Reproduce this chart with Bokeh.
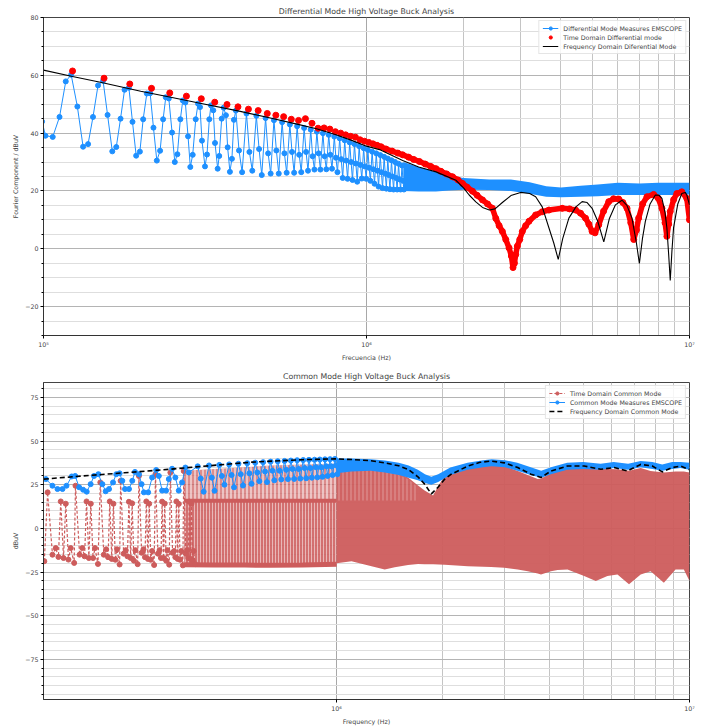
from bokeh.plotting import figure
from bokeh.layouts import column
from bokeh.models import Range1d, FixedTicker, SingleIntervalTicker, Legend, LegendItem
from bokeh.embed import file_html
from bokeh.resources import INLINE

FONT = "DejaVu Sans"
BLUE = "#1E90FF"
RED = "#FF0000"
IRED = "#CD5C5C"

# ------------------------------------------------------------------ TOP: differential mode
# EMSCOPE measurement, low-frequency part (kHz, dBuV)
dm_meas_low_khz = [99.0, 101.4, 106.8, 112.1, 117.2, 121.8, 127.3, 132.6, 137.4, 142.3,
                   147.5, 152.9, 157.9, 163.3, 168.0, 173.2, 178.2, 183.8, 188.6, 193.6,
                   198.8, 203.5, 208.9, 213.9, 219.0, 224.3, 229.6, 234.6, 239.1, 244.3,
                   250.1, 255.0, 259.7, 265.3, 269.9, 274.9, 280.2, 284.8, 289.7, 296.0,
                   300.9, 305.2, 309.5, 316.2, 320.8, 326.1, 330.0, 335.5, 339.6, 346.1,
                   350.0, 356.1, 361.2, 367.1, 371.6, 377.7, 383.1, 388.6]
dm_meas_low_db = [44.0, 39.1, 38.7, 45.6, 57.9, 60.2, 49.2, 35.3, 36.2, 45.6,
                  56.5, 58.1, 46.3, 33.7, 35.2, 45.0, 55.0, 55.7, 43.9, 32.2,
                  33.6, 44.8, 53.7, 53.8, 41.9, 30.5, 33.9, 44.8, 52.4, 52.0,
                  40.2, 30.0, 32.7, 44.8, 51.3, 50.6, 38.9, 28.3, 32.5, 44.8,
                  50.2, 49.0, 37.4, 28.5, 32.6, 44.8, 49.6, 47.9, 36.6, 27.7,
                  32.1, 45.0, 48.8, 46.2, 35.1, 26.6, 31.1, 44.6]
# EMSCOPE measurement, mid part: peak / falling / trough per harmonic (kHz, dBuV)
dm_peak_khz = [394, 425, 456, 487, 517, 548, 579, 610, 641, 672, 702, 733, 764, 795, 826,
               856, 887, 918, 949, 980, 1010, 1041, 1072, 1103, 1134, 1164, 1195, 1226, 1257, 1288]
dm_fall_khz = [403, 434, 465, 496, 526, 557, 588, 619, 650, 681, 711, 742, 773, 804, 835,
               865, 896, 927, 958, 989, 1019, 1050, 1081, 1112, 1143, 1173, 1204, 1235, 1266, 1297]
dm_trough_khz = [412, 443, 474, 505, 535, 566, 597, 628, 659, 690, 720, 751, 782, 813, 844,
                 874, 905, 936, 967, 998, 1028, 1059, 1090, 1121, 1152, 1182, 1213, 1244, 1275, 1306]
dm_peak_db = [47.8, 46.8, 46.0, 45.2, 44.5, 43.8, 43.0, 42.4, 41.8, 41.2, 40.5, 40.0, 39.4, 38.8, 38.2,
              37.5, 36.8, 36.2, 35.5, 34.8, 34.2, 33.6, 33.0, 32.4, 31.8, 31.2, 30.6, 30.0, 29.4, 28.8]
dm_fall_db = [34.0, 33.5, 34.5, 33.0, 34.0, 33.0, 33.5, 32.5, 33.5, 32.0, 33.0, 32.0, 32.5, 31.5, 31.0,
              30.5, 30.0, 29.5, 29.0, 28.5, 28.0, 27.5, 27.0, 26.5, 26.0, 25.5, 25.0, 24.5, 24.0, 23.5]
dm_trough_db = [26.5, 27.0, 25.5, 26.0, 26.0, 26.3, 26.3, 26.5, 27.0, 27.4, 27.4, 27.5, 27.7, 26.5, 24.5,
                24.2, 23.8, 23.2, 24.3, 24.2, 23.5, 22.5, 21.5, 21.0, 20.8, 20.6, 20.5, 20.5, 20.5, 20.5]
# EMSCOPE measurement, dense high-frequency band (MHz, upper / lower dBuV)
dm_band_mhz = [1.30, 1.45, 1.64, 1.80, 2.0, 2.4, 2.8, 3.2, 3.6, 4.0, 4.6, 5.2, 6.0, 7.0, 8.0, 9.0, 10.0]
dm_band_hi = [30.0, 28.3, 26.5, 25.2, 24.5, 24.0, 24.0, 23.0, 21.6, 21.2, 21.8, 22.2, 22.8, 22.6, 22.8, 22.8, 22.8]
dm_band_lo = [20.0, 19.8, 19.8, 20.2, 20.4, 20.3, 20.0, 19.0, 18.0, 17.8, 18.0, 18.2, 18.6, 18.6, 18.6, 18.6, 18.8]

# Time-domain differential mode harmonics (kHz, dBuV)
dm_td_khz = [123, 154, 185, 216, 246, 277, 308, 339, 370, 400, 431, 462, 493, 524, 554,
             585, 616, 647, 678, 708, 739, 770, 801, 832, 862, 893, 924, 955, 986, 1016]
dm_td_db = [61.5, 59.0, 57.0, 55.5, 53.9, 52.8, 51.9, 50.7, 49.9, 49.1, 48.3, 47.8, 46.8, 46.2, 45.7,
            44.8, 44.4, 45.0, 43.4, 41.7, 41.8, 41.4, 40.5, 40.0, 39.4, 38.9, 38.6, 37.7, 37.2, 36.8]
# Time-domain, dense region (MHz, dBuV)
dm_td_hi_mhz = [1.047, 1.078, 1.109, 1.15, 1.20, 1.25, 1.294, 1.35, 1.40, 1.458,
                1.52, 1.58, 1.641, 1.70, 1.77, 1.847, 1.92, 1.983, 2.05, 2.129,
                2.20, 2.286, 2.37, 2.454, 2.514, 2.574, 2.634, 2.699, 2.763, 2.809,
                2.842, 2.87, 2.897, 2.931, 2.982, 3.037, 3.11, 3.185, 3.34, 3.5,
                3.672, 4.036, 4.25, 4.439, 4.6, 4.765, 4.88, 4.994, 5.1, 5.237,
                5.42, 5.623, 5.82, 6.038, 6.22, 6.406, 6.58, 6.719, 6.85, 6.959,
                7.16, 7.384, 7.743, 8.0, 8.216, 8.40, 8.511, 8.62, 8.718, 8.93,
                9.137, 9.466, 9.81, 10.0]
dm_td_hi_db = [36.3, 35.8, 35.3, 34.5, 33.8, 33.1, 32.5, 31.7, 30.9, 30.2,
               29.3, 28.5, 27.7, 26.8, 25.9, 24.9, 23.8, 22.6, 21.3, 19.9,
               18.5, 16.9, 15.5, 14.0, 10.5, 8.0, 6.0, 3.2, 0.3, -2.5,
               -6.5, -5.0, -2.0, 0.9, 3.2, 6.0, 8.0, 9.5, 11.7, 12.8,
               13.4, 14.0, 13.8, 13.4, 12.3, 10.6, 8.5, 6.0, 5.5, 8.3,
               13.0, 16.3, 17.3, 17.2, 16.0, 14.0, 9.0, 3.2, 6.5, 10.6,
               15.5, 18.0, 18.8, 17.5, 14.0, 9.0, 4.3, 8.5, 12.9, 17.0,
               19.1, 19.7, 17.4, 10.0]
# Frequency-domain differential mode (MHz, dBuV)
dm_fd_mhz = [0.1, 0.123, 0.15, 0.2, 0.25, 0.3, 0.4, 0.5, 0.6, 0.7,
             0.8, 0.9, 1.0, 1.097, 1.294, 1.45, 1.641, 1.892, 2.0, 2.079,
             2.18, 2.286, 2.40, 2.50, 2.634, 2.80, 3.0, 3.2, 3.34, 3.5,
             3.672, 3.8, 3.923, 4.05, 4.232, 4.45, 4.652, 4.82, 4.994, 5.2,
             5.428, 5.65, 5.898, 6.18, 6.40, 6.635, 6.85, 6.995, 7.15, 7.30,
             7.55, 7.839, 8.05, 8.216, 8.40, 8.511, 8.62, 8.718, 8.82, 8.925,
             9.2, 9.466, 9.7, 9.81, 10.0]
dm_fd_db = [61.8, 59.6, 57.6, 54.5, 52.3, 50.5, 47.7, 45.3, 43.3, 41.5,
            39.5, 37.5, 35.5, 34.3, 30.5, 28.3, 26.6, 23.7, 21.0, 18.6,
            16.2, 14.3, 13.4, 13.8, 16.0, 18.4, 19.5, 19.1, 18.0, 14.5,
            7.2, 2.0, -3.7, 3.5, 10.6, 14.5, 16.3, 16.0, 14.0, 9.5,
            2.4, 10.5, 15.2, 16.8, 15.0, 10.6, 2.0, -5.1, 3.5, 9.5,
            15.5, 18.6, 18.5, 17.4, 12.5, 7.2, -2.0, -11.0, -1.0, 7.2,
            15.5, 19.1, 19.5, 18.6, 15.2]

# ------------------------------------------------------------------ BOTTOM: common mode
cm_td_low_khz = [148.5,
                 151.7, 156.6, 160.0, 162.8, 165.3, 168.3, 170.8, 173.8, 176.4, 180.4,
                 182.0, 186.9, 190.3, 193.1, 195.6, 198.6, 201.1, 204.1, 206.7, 210.7,
                 214.0, 218.9, 222.3, 225.1, 227.6, 230.6, 233.1, 236.1, 238.7, 242.7,
                 244.3, 249.2, 252.6, 255.4, 257.9, 260.9, 263.4, 266.4, 269.0, 273.0,
                 275.3, 280.2, 283.6, 286.4, 288.9, 291.9, 294.4, 297.4, 300.0, 304.0,
                 306.7, 311.6, 315.0, 317.8, 320.3, 323.3, 325.8, 328.8, 331.4, 335.4,
                 338.0, 342.9, 346.3, 349.1, 351.6, 354.6, 357.1, 360.1, 362.7, 366.7,
                 368.8, 373.7, 377.1, 379.9, 382.4, 385.4, 387.9, 390.9, 393.5, 397.5]
cm_td_low_db = [-18.8,
                20.6, -15.1, -11.3, -16.4, 15.4, -17.0, 14.1, -17.9, -11.3, -19.8,
                24.4, -15.1, -11.3, -16.0, 15.4, -17.0, 14.1, -17.0, -11.3, -20.4,
                26.3, -15.1, -12.0, -16.5, 15.4, -17.5, 14.1, -18.0, -12.0, -20.7,
                27.2, -14.5, -12.5, -16.0, 15.2, -17.0, 14.3, -18.5, -12.5, -20.5,
                30.0, -14.0, -12.0, -16.5, 15.4, -17.5, 14.1, -18.0, -13.0, -21.0,
                31.0, -14.5, -12.5, -17.0, 15.3, -17.0, 14.2, -18.5, -12.5, -20.8,
                31.9, -14.0, -13.0, -16.5, 15.4, -17.5, 14.0, -18.0, -13.0, -21.2,
                32.8, -14.5, -12.5, -17.0, 15.3, -17.5, 14.1, -18.5, -13.0, -20.5]
# Time-domain dense region A (MHz): lower edge, top of dense core, top of tall stems
cm_td_a_mhz = [0.37, 0.45, 0.55, 0.65, 0.8, 1.0]
cm_td_a_lo = [-20.8, -21.0, -21.0, -21.2, -21.0, -20.5]
cm_td_a_core = [15.8, 15.8, 15.8, 15.8, 15.8, 15.8]
cm_td_a_hi = [33.0, 34.0, 35.0, 36.0, 36.5, 37.0]
# Time-domain dense region B (MHz)
cm_td_b_mhz = [1.0, 1.102, 1.256, 1.369, 1.461, 1.594, 1.701, 1.776, 1.876, 1.95,
               2.023, 2.355, 2.741, 2.988, 3.261, 3.479, 3.714, 3.795, 4.049, 4.229,
               4.512, 5.028, 5.426, 5.854, 6.249, 6.739, 7.272, 7.758, 8.460, 9.130,
               9.636, 10.0]
cm_td_b_hi = [37.0, 36.6, 35.6, 34.8, 32.5, 29.1, 24.5, 21.6, 18.8, 25.0,
              30.0, 34.8, 36.6, 35.5, 32.8, 30.5, 28.2, 28.5, 31.5, 33.8,
              34.3, 34.8, 34.0, 34.0, 33.8, 33.0, 34.5, 32.8, 32.0, 32.5,
              32.5, 31.9]
cm_td_b_lo = [-20.0, -18.8, -21.7, -23.6, -22.3, -21.0, -20.4, -20.5, -20.6, -20.7,
              -20.8, -21.7, -22.2, -22.6, -23.5, -24.5, -25.8, -26.4, -24.5, -23.8,
              -23.6, -27.3, -30.1, -27.3, -26.4, -32.0, -26.4, -24.5, -31.1, -23.6,
              -23.6, -30.1]
# striped (less dense) upper part of region B, 1.0 - 1.7 MHz
cm_td_s_mhz = [1.0, 1.102, 1.256, 1.369, 1.461, 1.594, 1.701]
cm_td_s_lo = [16.0, 16.0, 16.0, 16.0, 16.0, 16.0, 16.0]
cm_td_s_hi = [36.0, 35.6, 34.6, 33.8, 31.5, 28.1, 23.5]

# EMSCOPE common mode, low part (MHz, dBuV)
cm_meas_low_mhz = [0.1500, 0.1566, 0.1618, 0.1672, 0.1716, 0.1776, 0.1816, 0.1864, 0.1913, 0.1958,
                   0.2009, 0.2054, 0.2113, 0.2169, 0.2216, 0.2265, 0.2325, 0.2375, 0.2427, 0.2470,
                   0.2514, 0.2580, 0.2636, 0.2683, 0.2754, 0.2801, 0.2844, 0.2924, 0.3001, 0.3081,
                   0.3135, 0.3203, 0.3287, 0.3346, 0.3418, 0.3492, 0.3570, 0.3648, 0.3728, 0.3812]
cm_meas_low_db = [28.2, 24.4, 22.5, 22.5, 24.4, 29.7, 30.0, 23.5, 22.1, 21.0,
                  25.3, 30.0, 31.0, 25.3, 21.2, 22.5, 26.3, 31.0, 31.5, 27.2,
                  22.5, 22.5, 27.2, 32.3, 31.0, 25.3, 20.6, 20.6, 29.1, 33.4,
                  30.0, 21.6, 21.6, 28.2, 34.1, 29.1, 21.6, 26.3, 34.8, 32.0]
cm_peak_mhz = [0.404, 0.435, 0.465, 0.496, 0.527, 0.558, 0.588, 0.619, 0.650, 0.681,
               0.712, 0.742, 0.773, 0.804, 0.835, 0.866, 0.896, 0.927, 0.958, 0.989]
cm_fall_mhz = [0.412, 0.443, 0.473, 0.504, 0.535, 0.566, 0.596, 0.627, 0.658, 0.689,
               0.720, 0.750, 0.781, 0.812, 0.843, 0.874, 0.904, 0.935, 0.966, 0.997]
cm_trough_mhz = [0.420, 0.451, 0.481, 0.512, 0.543, 0.574, 0.604, 0.635, 0.666, 0.697,
                 0.728, 0.758, 0.789, 0.820, 0.851, 0.882, 0.912, 0.943, 0.974, 1.005]
cm_peak_db = [35.5, 36.0, 36.3, 36.6, 37.0, 37.3, 37.6, 37.9, 38.2, 38.4,
              38.6, 38.8, 39.0, 39.1, 39.2, 39.3, 39.4, 39.5, 39.6, 39.7]
cm_fall_db = [28.5, 29.0, 30.0, 30.5, 31.0, 31.5, 32.0, 32.5, 33.0, 33.0,
              33.5, 34.0, 34.0, 34.5, 34.5, 35.0, 35.0, 35.5, 35.5, 36.0]
cm_trough_db = [21.0, 21.5, 25.0, 23.5, 24.5, 25.5, 27.0, 26.5, 27.5, 28.0,
                28.2, 28.3, 28.5, 28.7, 29.0, 29.2, 29.5, 30.0, 30.5, 31.0]
cm_band_mhz = [1.0, 1.1, 1.25, 1.37, 1.5, 1.6, 1.7, 1.78, 1.855, 1.94,
               2.1, 2.35, 2.6, 2.75, 3.0, 3.25, 3.55, 3.8, 4.05, 4.5,
               5.0, 5.6, 6.1, 6.7, 7.27, 7.85, 8.37, 8.93, 9.43, 10.0]
cm_band_hi = [40.0, 40.0, 39.5, 38.8, 37.5, 36.0, 33.5, 31.0, 29.5, 31.0,
              34.8, 37.5, 39.0, 39.5, 39.0, 37.5, 35.0, 33.0, 35.0, 37.5,
              38.0, 37.0, 38.0, 37.0, 38.5, 38.0, 36.5, 38.0, 38.0, 37.5]
cm_band_lo = [31.5, 32.5, 33.0, 32.0, 30.5, 29.0, 27.5, 26.0, 25.0, 26.5,
              30.5, 33.5, 35.0, 35.5, 35.0, 33.0, 30.5, 29.0, 31.0, 33.5,
              34.0, 33.5, 34.5, 33.5, 35.0, 34.0, 33.0, 34.0, 34.5, 33.5]
# Frequency-domain common mode (MHz, dBuV)
cm_fd_mhz = [0.148, 0.2, 0.25, 0.335, 0.4, 0.575, 0.8, 0.989, 1.102, 1.25,
             1.369, 1.5, 1.594, 1.70, 1.776, 1.855, 1.938, 2.02, 2.113, 2.355,
             2.55, 2.741, 2.988, 3.261, 3.555, 3.795, 4.049, 4.512, 5.028, 5.606,
             6.112, 6.668, 7.272, 7.845, 8.374, 8.934, 9.432, 10.0]
cm_fd_db = [28.2, 30.3, 31.8, 33.8, 35.2, 37.9, 39.3, 39.8, 39.4, 38.7,
            37.5, 35.8, 33.8, 29.5, 25.3, 19.7, 23.5, 28.0, 31.0, 35.7,
            37.8, 38.5, 37.5, 34.8, 31.0, 29.1, 32.8, 35.7, 35.7, 33.8,
            34.8, 32.8, 36.6, 35.7, 32.3, 34.8, 35.7, 33.6]

KHZ = 1e3
MHZ = 1e6


def hz(vals, unit):
    return [v * unit for v in vals]


def interleave(*lists):
    out = []
    for grp in zip(*lists):
        out.extend(grp)
    return out


def style(p, title, xlabel, ylabel, yticker, ylabels, xticks, xlabels):
    p.title.text = title
    p.title.align = "center"
    p.title.text_font = FONT
    p.title.text_font_size = "7.8px"
    p.title.text_font_style = "normal"
    p.title.standoff = 3
    p.outline_line_color = "#444444"
    p.background_fill_color = "white"
    p.border_fill_color = "white"
    for ax in (p.xaxis[0], p.yaxis[0]):
        ax.axis_label_text_font = FONT
        ax.axis_label_text_font_size = "6.3px"
        ax.axis_label_text_font_style = "normal"
        ax.major_label_text_font = FONT
        ax.major_label_text_font_size = "6.3px"
        ax.major_tick_out = 3
        ax.major_tick_in = 0
        ax.minor_tick_out = 2
        ax.minor_tick_in = 0
        ax.major_label_standoff = 2
        ax.axis_label_standoff = 3
        ax.axis_line_color = "#333333"
    p.xaxis.axis_label = xlabel
    p.yaxis.axis_label = ylabel
    p.xaxis.ticker = FixedTicker(ticks=xticks, minor_ticks=[])
    p.xaxis.major_label_overrides = xlabels
    p.yaxis.ticker = yticker
    p.yaxis.major_label_overrides = ylabels
    p.xgrid.ticker = FixedTicker(ticks=[1e6], minor_ticks=[2e6, 3e6, 4e6, 5e6, 6e6, 7e6, 8e6, 9e6])
    p.xgrid.grid_line_color = "#a8a8a8"
    p.xgrid.minor_grid_line_color = "#c4c4c4"
    p.ygrid.ticker = yticker
    p.ygrid.grid_line_color = "#b4b4b4"
    p.ygrid.minor_grid_line_color = "#dedede"


def make_legend(items):
    lg = Legend(items=items, location="top_right",
                label_text_font=FONT, label_text_font_size="6.3px",
                glyph_width=16, glyph_height=8, label_height=8, label_standoff=5,
                spacing=1, padding=3, margin=3,
                border_line_color="#cccccc", background_fill_alpha=0.85)
    return lg


# ---------------- top figure
p1 = figure(width=711, height=363, x_axis_type="log",
            x_range=Range1d(1e5, 1e7), y_range=Range1d(-30, 80),
            output_backend="svg", toolbar_location=None,
            min_border_left=43, min_border_right=20, min_border_top=17, min_border_bottom=23)

dm_x = hz(dm_meas_low_khz, KHZ) + hz(interleave(dm_peak_khz, dm_fall_khz, dm_trough_khz), KHZ)
dm_y = dm_meas_low_db + interleave(dm_peak_db, dm_fall_db, dm_trough_db)
p1.varea(x=hz(dm_band_mhz, MHZ), y1=dm_band_lo, y2=dm_band_hi, fill_color=BLUE)
b_line = p1.line(dm_x + hz(dm_band_mhz[:1], MHZ), dm_y + [22.0], line_color=BLUE, line_width=1)
b_pts = p1.scatter(dm_x, dm_y, size=5, color=BLUE)

p1.line(hz(dm_td_hi_mhz, MHZ), dm_td_hi_db, line_color=RED, line_width=5.5, line_cap="round")
p1.scatter(hz(dm_td_hi_mhz, MHZ), dm_td_hi_db, size=6, color=RED)
r_pts = p1.scatter(hz(dm_td_khz, KHZ), dm_td_db, size=6, color=RED)

k_line = p1.line(hz(dm_fd_mhz, MHZ), dm_fd_db, line_color="black", line_width=1.1)

style(p1, "Differential Mode High Voltage Buck Analysis", "Frecuencia (Hz)",
      "Fourier Component / dBuV",
      SingleIntervalTicker(interval=20, num_minor_ticks=4),
      {-20: "\u221220"},
      [1e5, 1e6, 1e7], {100000: "10\u2075", 1000000: "10\u2076", 10000000: "10\u2077"})
p1.add_layout(make_legend([
    LegendItem(label="Differential Mode Measures EMSCOPE", renderers=[b_line, b_pts]),
    LegendItem(label="Time Domain Differential mode", renderers=[r_pts]),
    LegendItem(label="Frequency Domain Diferential Mode", renderers=[k_line]),
]))

# ---------------- bottom figure
p2 = figure(width=711, height=364, x_axis_type="log",
            x_range=Range1d(1.477e5, 1e7), y_range=Range1d(-98, 83.5),
            output_backend="svg", toolbar_location=None,
            min_border_left=41, min_border_right=22, min_border_top=19, min_border_bottom=23)

# time-domain common mode (drawn first)
p2.varea(x=hz(cm_td_a_mhz, MHZ), y1=cm_td_a_core, y2=cm_td_a_hi, fill_color=IRED, fill_alpha=0.7,
         hatch_pattern="vertical_line", hatch_color="white", hatch_alpha=0.65,
         hatch_scale=4, hatch_weight=1.5)
p2.varea(x=hz(cm_td_a_mhz, MHZ), y1=cm_td_a_lo, y2=cm_td_a_core, fill_color=IRED, fill_alpha=0.88,
         hatch_pattern="vertical_line", hatch_color="white", hatch_alpha=0.5,
         hatch_scale=3, hatch_weight=1)
p2.line(hz(cm_td_a_mhz, MHZ), cm_td_a_core, line_color=IRED, line_width=4)
p2.line(hz(cm_td_a_mhz, MHZ), cm_td_a_lo, line_color=IRED, line_width=5)
p2.varea(x=hz(cm_td_b_mhz, MHZ), y1=cm_td_b_lo, y2=cm_td_b_hi, fill_color=IRED, fill_alpha=0.95)
p2.varea(x=hz(cm_td_s_mhz, MHZ), y1=cm_td_s_lo, y2=cm_td_s_hi, fill_alpha=0,
         hatch_pattern="vertical_line", hatch_color="white", hatch_alpha=0.35,
         hatch_scale=4, hatch_weight=1)
t_line = p2.line(hz(cm_td_low_khz, KHZ), cm_td_low_db, line_color=IRED, line_width=1.2,
                 line_dash="3 2")
t_pts = p2.scatter(hz(cm_td_low_khz, KHZ), cm_td_low_db, size=5, color=IRED)

# EMSCOPE common mode
cm_x = hz(cm_meas_low_mhz, MHZ) + hz(interleave(cm_peak_mhz, cm_fall_mhz, cm_trough_mhz), MHZ)
cm_y = cm_meas_low_db + interleave(cm_peak_db, cm_fall_db, cm_trough_db)
p2.varea(x=hz(cm_band_mhz, MHZ), y1=cm_band_lo, y2=cm_band_hi, fill_color=BLUE)
c_line = p2.line(cm_x, cm_y, line_color=BLUE, line_width=1)
c_pts = p2.scatter(cm_x, cm_y, size=5, color=BLUE)

f_line = p2.line(hz(cm_fd_mhz, MHZ), cm_fd_db, line_color="black", line_width=1.6, line_dash="5 3")

style(p2, "Common Mode High Voltage Buck Analysis", "Frequency (Hz)", "dBuV",
      SingleIntervalTicker(interval=25, num_minor_ticks=5),
      {-25: "\u221225", -50: "\u221250", -75: "\u221275"},
      [1e6, 1e7], {1000000: "10\u2076", 10000000: "10\u2077"})
p2.add_layout(make_legend([
    LegendItem(label="Time Domain Common Mode", renderers=[t_line, t_pts]),
    LegendItem(label="Common Mode Measures EMSCOPE", renderers=[c_line, c_pts]),
    LegendItem(label="Frequency Domain Common Mode", renderers=[f_line]),
]))

layout = column(p1, p2, spacing=0)
open("out.html", "w").write(file_html(layout, INLINE))
